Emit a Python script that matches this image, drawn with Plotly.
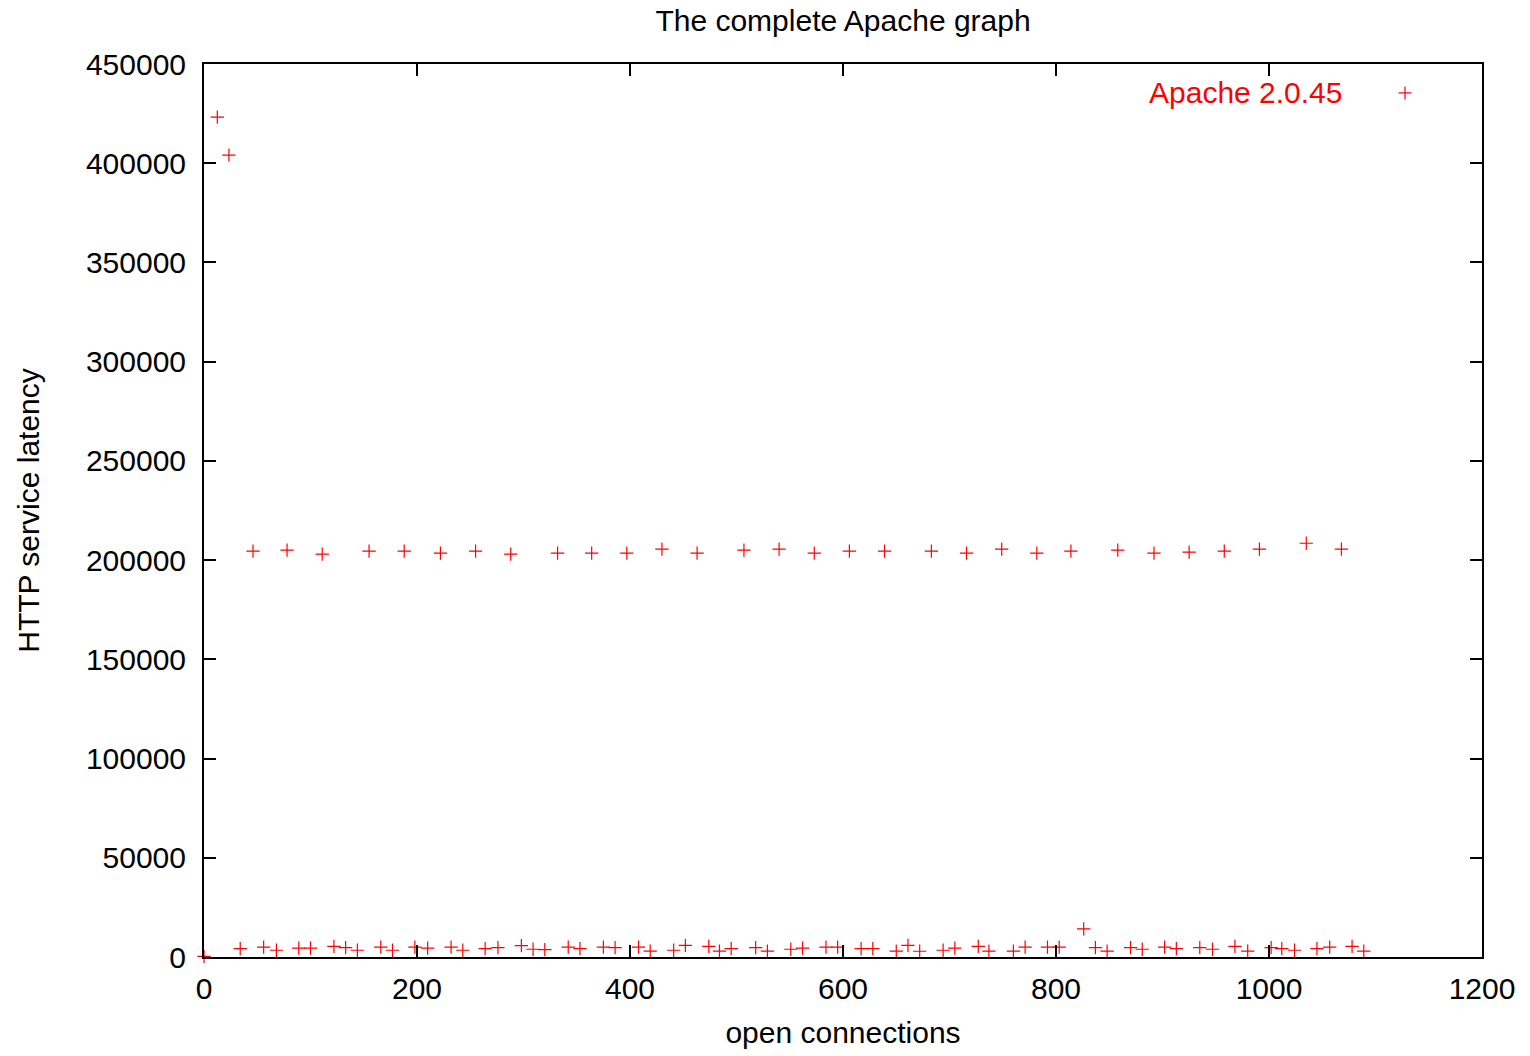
import plotly.graph_objects as go

# open connections (x) and HTTP service latency (y)
low_x = [0, 34, 56, 68, 89, 100, 122, 133, 144, 166, 177, 198, 210, 232, 243, 264, 276,
         298, 309, 320, 342, 353, 375, 386, 408, 419, 441, 452, 474, 484, 495, 518, 529,
         551, 562, 584, 595, 617, 628, 650, 661, 672, 694, 705, 727, 737, 760, 771, 792,
         803, 826, 837, 848, 870, 881, 902, 913, 935, 947, 968, 980, 1002, 1012, 1024,
         1045, 1057, 1078, 1089]
low_y = [300, 4200, 5000, 3400, 4500, 4500, 5400, 4700, 3400, 5000, 3400, 5000, 4500,
         5000, 3400, 4200, 4700, 5700, 3900, 3700, 5000, 4200, 5000, 4700, 5000, 3000,
         3400, 5900, 5400, 3000, 4200, 4700, 3000, 3900, 4500, 5000, 5000, 4200, 4200,
         3000, 5900, 2900, 3400, 4500, 5400, 3000, 3000, 5000, 5000, 5000, 14200, 4700,
         3000, 4700, 3900, 5000, 4200, 4700, 3900, 5400, 3000, 4700, 4200, 3400, 4200,
         5000, 5400, 3000]

high_x = [12.5, 23.4]
high_y = [423200, 404100]

mid_x = [46, 78, 111, 155, 188, 222, 255, 288, 332, 364, 397, 430, 463, 507, 540, 573,
         606, 639, 683, 716, 749, 782, 814, 858, 892, 925, 958, 991, 1035, 1068]
mid_y = [204500, 205000, 203000, 204500, 204500, 203500, 204500, 203000, 203500, 203500,
         203500, 205500, 203500, 205000, 205500, 203500, 204500, 204500, 204500, 203500,
         205500, 203500, 204500, 205000, 203500, 204000, 204500, 205500, 208500, 205500]

pts = sorted(zip(low_x + high_x + mid_x, low_y + high_y + mid_y))
xs = [p[0] for p in pts]
ys = [p[1] for p in pts]

series_name = "Apache 2.0.45"
FONT = "Liberation Sans, Arial, sans-serif"
FS = 30

fig = go.Figure()
fig.add_trace(go.Scatter(
    x=xs, y=ys, mode="markers", name=series_name, showlegend=False,
    cliponaxis=False,
    marker=dict(symbol="cross-thin", size=9.5, color="#ff0000",
                line=dict(color="#ff0000", width=1.2)),
))

axis_common = dict(
    showline=True, linecolor="black", linewidth=2, mirror="ticks",
    ticks="inside", ticklen=12, tickwidth=2, tickcolor="black",
    showgrid=False, zeroline=False,
    tickfont=dict(family=FONT, size=FS, color="black"),
    tickformat="d",
)

fig.update_layout(
    width=1530, height=1056,
    margin=dict(l=204, r=48, t=64, b=96),
    paper_bgcolor="white", plot_bgcolor="white",
    font=dict(family=FONT, size=FS, color="black"),
    title=dict(text="The complete Apache graph", x=0.551, xanchor="center",
               y=0.981, yanchor="middle", font=dict(family=FONT, size=FS)),
    xaxis=dict(range=[0, 1200], dtick=200, tick0=0, ticklabelstandoff=4,
               title=dict(text="open connections", standoff=18,
                          font=dict(family=FONT, size=FS)),
               **axis_common),
    yaxis=dict(range=[0, 450000], dtick=50000, tick0=0, ticklabelstandoff=10,
               title=dict(text="HTTP service latency", standoff=37,
                          font=dict(family=FONT, size=FS)),
               **axis_common),
)

# legend (gnuplot style: text, then sample to the right)
fig.add_annotation(text=series_name, xref="paper", yref="paper",
                   x=(1345 - 204) / 1278, y=(960 - 93) / 896,
                   xanchor="right", yanchor="middle", showarrow=False,
                   font=dict(family=FONT, size=FS, color="#ff0000"))
cx, cy = (1405 - 204) / 1278, (960 - 93) / 896
hx, hy = 6.5 / 1278, 6.5 / 896
fig.add_shape(type="line", xref="paper", yref="paper", x0=cx - hx, x1=cx + hx,
              y0=cy, y1=cy, line=dict(color="#ff0000", width=1.2))
fig.add_shape(type="line", xref="paper", yref="paper", x0=cx, x1=cx,
              y0=cy - hy, y1=cy + hy, line=dict(color="#ff0000", width=1.2))

fig.write_html("out.html")
